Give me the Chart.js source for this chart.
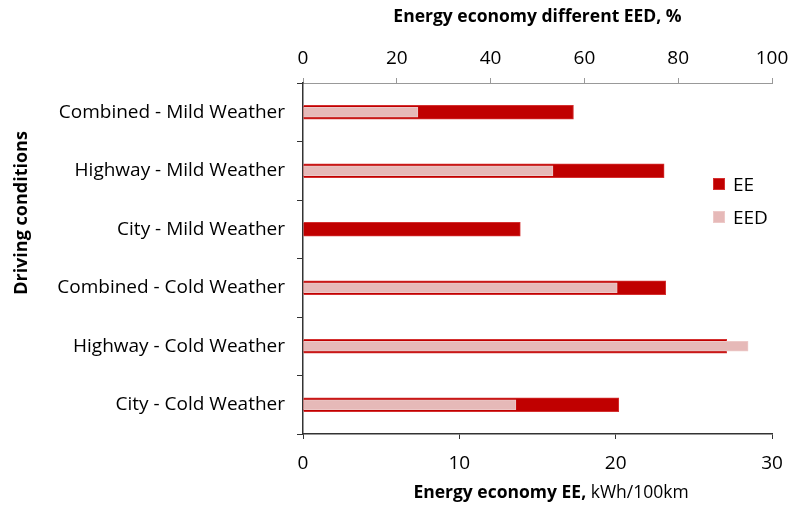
<!DOCTYPE html>
<html>
<head>
<meta charset="utf-8">
<script src="https://cdn.jsdelivr.net/npm/chart.js@4"></script>
<style>
  body { margin: 0; background: #fff; }
  #wrap { position: relative; width: 792px; height: 506px; }
  #legend { position: absolute; left: 713px; top: 167px; font-family: "Open Sans", sans-serif; font-size: 19px; color: #000; }
  #legend div { height: 33px; display: flex; align-items: center; }
  #legend span.box { width: 12px; height: 12px; margin-right: 8px; box-sizing: border-box; }
</style>
</head>
<body>
<div id="wrap">
  <canvas id="myChart" width="792" height="506"></canvas>
  <div id="legend"></div>
</div>
<script>
// driving conditions, top to bottom
const conditions = [
    "Combined - Mild Weather",
    "Highway - Mild Weather",
    "City - Mild Weather",
    "Combined - Cold Weather",
    "Highway - Cold Weather",
    "City - Cold Weather"
]
// energy economy EE, kWh/100km (bottom axis)
const eeValues = [17.3, 23.1, 13.9, 23.2, 27.1, 20.2]
// energy economy different EED, % (top axis)
const eedValues = [24.5, 53.3, 0, 67, 94.9, 45.4]

const eeTicks = [0, 10, 20, 30]
const eedTicks = [0, 20, 40, 60, 80, 100]

const font_family = '"Open Sans", sans-serif'
const red = "#C00000"
const pink = "#E6B9B8"

// bottom title has a bold part and a normal part, y title sits higher than centre
const axisTitles = {
    id: "axisTitles",
    afterDraw(chart) {
        const ctx = chart.ctx
        const bold = "Energy economy EE, "
        const rest = "kWh/100km"
        ctx.save()
        ctx.fillStyle = "#000"
        ctx.textBaseline = "middle"
        ctx.font = "bold 17.5px " + font_family
        let w1 = ctx.measureText(bold).width
        ctx.font = "17.5px " + font_family
        let w2 = ctx.measureText(rest).width
        let x = 551 - (w1 + w2) / 2
        ctx.font = "bold 17.5px " + font_family
        ctx.fillText(bold, x, 493)
        ctx.font = "17.5px " + font_family
        ctx.fillText(rest, x + w1, 493)

        ctx.translate(22, 213)
        ctx.rotate(-Math.PI / 2)
        ctx.textAlign = "center"
        ctx.font = "bold 18px " + font_family
        ctx.fillText("Driving conditions", 0, 0)
        ctx.restore()
    }
}

// keep the plot edges where the original has them
const noSidePad = (scale) => {
    scale.paddingLeft = 0
    scale.paddingRight = 0
}

let htmlChart = document.getElementById("myChart")
let chart = new Chart(htmlChart, {
    type: "bar",
    data: {
        labels: conditions,
        datasets: [
            {
                label: "EE",
                data: eeValues,
                xAxisID: "x",
                backgroundColor: red,
                borderColor: "#D43030",
                borderWidth: 1,
                barThickness: 14,
                grouped: false,
                order: 1
            },
            {
                label: "EED",
                data: eedValues,
                xAxisID: "x2",
                backgroundColor: pink,
                borderColor: "#EDC9C8",
                borderWidth: 1,
                barThickness: 10,
                grouped: false,
                order: 0
            }
        ]
    },
    plugins: [axisTitles],
    options: {
        indexAxis: "y",
        responsive: false,
        animation: false,
        layout: { padding: { left: 0, right: 20, top: 0, bottom: 0 } },
        plugins: {
            legend: { display: false },
            tooltip: { enabled: false }
        },
        scales: {
            x: {
                position: "bottom",
                min: 0,
                max: 30,
                afterBuildTicks: (scale) => { scale.ticks = eeTicks.map(v => ({ value: v })) },
                afterFit: (scale) => { scale.height = 72; noSidePad(scale) },
                border: { display: true, color: "#333", width: 1.5 },
                grid: { drawOnChartArea: false, tickLength: 5, color: "#333" },
                ticks: { color: "#000", font: { family: font_family, size: 19 }, padding: 13 }
            },
            x2: {
                position: "top",
                min: 0,
                max: 100,
                afterBuildTicks: (scale) => { scale.ticks = eedTicks.map(v => ({ value: v })) },
                afterFit: (scale) => { scale.height = 83; noSidePad(scale) },
                border: { display: true, color: "#999", width: 1 },
                grid: { drawOnChartArea: false, tickLength: 5, color: "#999" },
                ticks: { color: "#000", font: { family: font_family, size: 19 }, padding: 8 },
                title: {
                    display: true,
                    text: "Energy economy different EED, %",
                    color: "#000",
                    font: { family: font_family, size: 17.5, weight: "bold" },
                    padding: { top: 7, bottom: 4 }
                }
            },
            y: {
                afterFit: (scale) => { scale.width = 303 },
                border: { display: true, color: "#333", width: 1.5 },
                grid: { drawOnChartArea: false, offset: true, tickLength: 6, color: "#333" },
                ticks: { color: "#000", font: { family: font_family, size: 19 }, padding: 12 }
            }
        }
    }
})

// legend drawn as html, placed inside the plot like the original
let legend = document.getElementById("legend")
chart.data.datasets.forEach(ds => {
    let row = document.createElement("div")
    let box = document.createElement("span")
    box.className = "box"
    box.style.background = ds.backgroundColor
    box.style.border = "1px solid " + ds.borderColor
    row.appendChild(box)
    row.appendChild(document.createTextNode(ds.label))
    legend.appendChild(row)
})
</script>
</body>
</html>
